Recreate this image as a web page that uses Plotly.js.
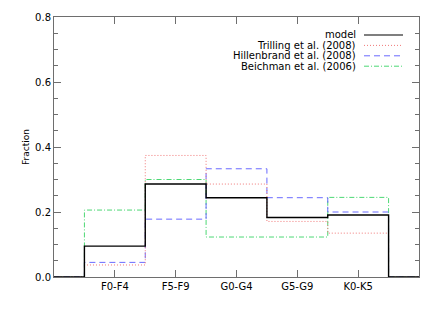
<!DOCTYPE html>
<html>
<head>
<meta charset="utf-8">
<script src="https://cdn.plot.ly/plotly-3.0.1.min.js"></script>
<style>html,body{margin:0;padding:0;background:#fff;}#chart{width:436px;height:312px;}</style>
</head>
<body>
<div id="chart"></div>
<script>
const categories = ["F0-F4", "F5-F9", "G0-G4", "G5-G9", "K0-K5"];
const model = [0.095, 0.286, 0.244, 0.183, 0.191];
const trilling = [0.037, 0.374, 0.286, 0.171, 0.135];
const hillenbrand = [0.045, 0.178, 0.333, 0.244, 0.200];
const beichman = [0.206, 0.300, 0.123, 0.123, 0.245];
const seriesNames = ["model", "Trilling et al. (2008)", "Hillenbrand et al. (2008)", "Beichman et al. (2006)"];

const tickPos = categories.map((c, i) => i + 1);
// Step histogram: bin edges around each category position
function stepX() {
  const xs = [0];
  tickPos.forEach(p => xs.push(p - 0.5));
  xs.push(tickPos[tickPos.length - 1] + 0.5);
  xs.push(tickPos.length + 1);
  return xs;
}
function stepY(vals) { return [0].concat(vals).concat([0, 0]); }

const FONT = 'DejaVu Sans, Liberation Sans, Arial, sans-serif';
const styles = [
  {color: '#000000', width: 1.4, dash: 'solid'},
  {color: '#f07878', width: 1, dash: '1px,2px'},
  {color: '#6a6aff', width: 1, dash: '6px,4px'},
  {color: '#4cd874', width: 1, dash: '5px,2px,1px,2px'}
];
const data = [beichman, hillenbrand, trilling, model];
const order = [3, 2, 1, 0];
const traces = order.map((si, k) => ({
  type: 'scatter', mode: 'lines',
  x: stepX(), y: stepY(data[k]),
  line: {shape: 'hv', color: styles[si].color, width: styles[si].width, dash: styles[si].dash},
  name: seriesNames[si], showlegend: false, hoverinfo: 'skip'
}));

const shapes = [];
const annotations = [];
const legTop = 35, legStep = 10.4;
seriesNames.forEach((n, i) => {
  const yPix = legTop + i * legStep;
  const yp = 1 - (yPix - 17) / 260;
  annotations.push({xref: 'paper', yref: 'paper', x: (358 - 54) / 365, y: yp, xanchor: 'right', yanchor: 'middle',
    text: n, showarrow: false, font: {family: FONT, size: 10, color: '#000'}});
  shapes.push({type: 'line', xref: 'paper', yref: 'paper', x0: (364 - 54) / 365, x1: (403 - 54) / 365, y0: yp, y1: yp,
    line: {color: styles[i].color, width: i === 0 ? 1.2 : 1, dash: styles[i].dash}});
});

const axisColor = '#6e6e6e';
const layout = {
  width: 436, height: 312,
  margin: {l: 54, r: 17, t: 17, b: 35, pad: 0},
  paper_bgcolor: '#fff', plot_bgcolor: '#fff',
  font: {family: FONT, size: 10, color: '#000'},
  showlegend: false,
  xaxis: {
    range: [0, categories.length + 1], tickvals: tickPos, ticktext: categories,
    ticks: 'inside', ticklen: 7, tickcolor: axisColor, tickwidth: 1,
    showline: true, linecolor: axisColor, linewidth: 1, mirror: 'ticks',
    showgrid: false, zeroline: false, tickfont: {size: 10}
  },
  yaxis: {
    range: [0, 0.8], dtick: 0.2, tick0: 0, tickformat: '.1f',
    ticks: 'inside', ticklen: 7, tickcolor: axisColor, tickwidth: 1,
    minor: {dtick: 0.05, ticks: 'inside', ticklen: 4, tickcolor: axisColor, tickwidth: 1, showgrid: false},
    showline: true, linecolor: axisColor, linewidth: 1, mirror: 'ticks',
    showgrid: false, zeroline: false, tickfont: {size: 10},
    title: {text: 'Fraction', font: {size: 9}, standoff: 3}
  },
  shapes: shapes, annotations: annotations
};
Plotly.newPlot('chart', traces, layout, {staticPlot: true, displayModeBar: false});
</script>
</body>
</html>
